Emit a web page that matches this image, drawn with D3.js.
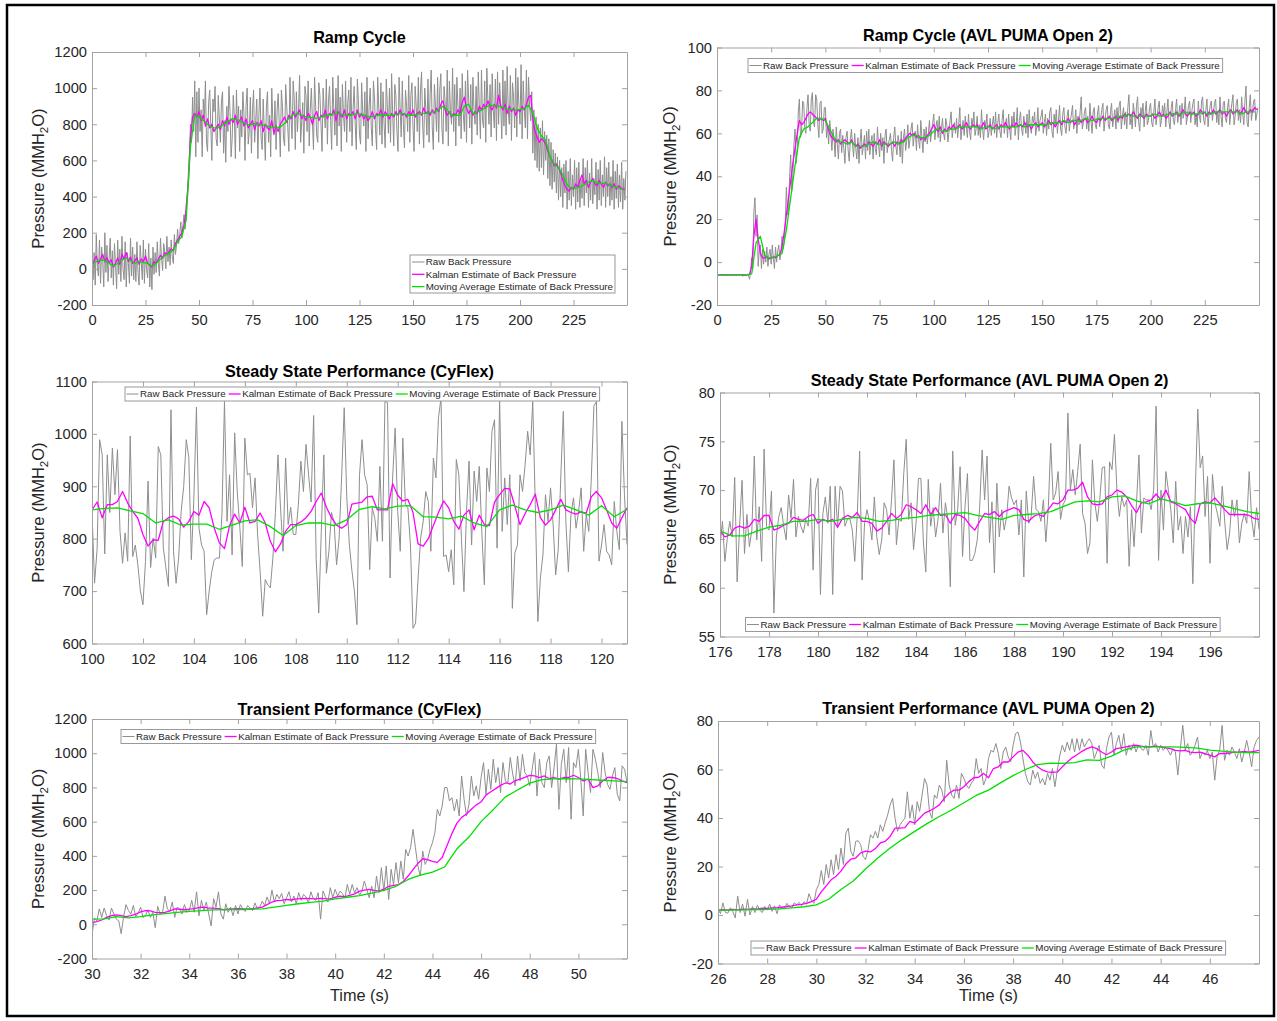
<!DOCTYPE html>
<html>
<head>
<meta charset="utf-8">
<script src="https://cdn.jsdelivr.net/npm/d3@7"></script>
<style>
  body { margin: 0; background: #fff; }
  svg { font-family: "Liberation Sans", Arial, Helvetica, sans-serif; }
  .axis path.domain, .axis line { stroke: #a3a3a3; }
  .axis text { font-size: 14.7px; fill: #262626; font-family: "Liberation Sans", Arial, sans-serif; }
</style>
</head>
<body>
<svg id="fig" width="1277" height="1021"></svg>
<script>
// ---- Ramp cycle (CyFlex): raw every 0.5 s, Kalman every 1 s, moving average every 2 s
const rampCyflexRaw = [
  150, -60, 90, -90, 190, 10, -40, 160, -80, 120, 40, -100, 200, -20, 130, -70, 60, 170, -50, 100,
  -90, 140, 20, -110, 160, -30, 110, -70, 180, 0, -60, 150, -100, 90, 30, -80, 170, -40, 120, -60,
  80, -70, 150, -20, -90, 130, 40, -60, 160, -80, 110, 0, -50, 140, -100, 60, -115, 120, -30, 90,
  -20, 150, 30, -40, 170, 60, -10, 140, 90, 0, 180, 40, 120, 20, 160, 70, 30, 190, 80, 130,
  220, 140, 190, 260, 170, 240, 300, 220, 350, 420, 520, 640, 800, 700, 950, 760, 1040, 620, 980, 700,
  1000, 760, 880, 620, 940, 830, 1040, 700, 650, 920, 990, 800, 600, 940, 870, 1010, 720, 680, 960, 830,
  700, 930, 980, 640, 820, 590, 900, 760, 1010, 870, 620, 720, 960, 850, 610, 990, 780, 900, 650, 880,
  730, 980, 860, 600, 900, 1000, 690, 760, 950, 640, 880, 990, 700, 820, 940, 610, 860, 1000, 730, 660,
  940, 760, 600, 900, 980, 700, 850, 620, 1000, 820, 740, 930, 660, 880, 970, 800, 620, 990, 900, 720,
  680, 1020, 900, 780, 650, 1060, 840, 720, 1040, 940, 660, 980, 760, 880, 1070, 700, 820, 920, 640, 1010,
  960, 760, 1040, 680, 880, 1000, 820, 660, 1060, 900, 740, 700, 1030, 960, 800, 650, 1000, 880, 780, 1050,
  690, 930, 1010, 820, 660, 1060, 880, 740, 1000, 680, 1070, 790, 950, 650, 1020, 860, 760, 1040, 700, 920,
  990, 760, 1060, 680, 880, 1010, 800, 660, 1050, 930, 740, 690, 1030, 870, 790, 980, 650, 1060, 720, 900,
  1000, 780, 680, 1040, 950, 770, 660, 1060, 890, 740, 1030, 690, 980, 800, 670, 1050, 900, 750, 1000, 700,
  1080, 860, 680, 1020, 960, 760, 650, 1060, 880, 730, 1040, 800, 670, 990, 900, 760, 1070, 700, 960, 1030,
  780, 650, 1010, 900, 760, 1060, 690, 990, 1090, 800, 670, 1000, 880, 740, 1050, 700, 970, 1100, 780, 660,
  1020, 900, 760, 1060, 700, 990, 1080, 780, 690, 1010, 930, 760, 1100, 680, 1040, 880, 800, 1110, 760, 1020,
  680, 1060, 900, 790, 1000, 720, 1080, 860, 760, 1040, 700, 1100, 940, 780, 1020, 690, 1060, 880, 800, 1010,
  740, 1090, 900, 720, 1100, 820, 780, 1040, 700, 1110, 930, 800, 1020, 730, 1080, 880, 780, 1050, 710, 1090,
  800, 1030, 900, 720, 1100, 790, 1040, 740, 1120, 880, 800, 1070, 710, 1030, 950, 780, 1110, 730, 1060, 900,
  800, 1130, 720, 1040, 880, 780, 1100, 720, 1060, 900, 820, 980, 640, 880, 600, 840, 560, 800, 540, 780,
  560, 820, 520, 760, 600, 740, 500, 720, 460, 700, 440, 660, 480, 640, 420, 620, 380, 600, 400, 560,
  340, 580, 420, 600, 330, 540, 380, 610, 350, 520, 400, 600, 330, 560, 370, 590, 340, 500, 390, 610,
  350, 560, 420, 600, 340, 530, 380, 610, 360, 500, 410, 590, 330, 550, 380, 600, 350, 520, 400, 620,
  340, 560, 400, 590, 350, 510, 380, 600, 330, 540, 390, 580, 340, 520, 370, 590, 330, 500, 380, 540
];
const rampCyflexKalman = [
  20, 45, 70, 30, 55, 80, 40, 60, 35, 50,
  10, 30, 60, 25, 80, 55, 90, 40, 65, 30,
  45, 60, 25, 55, 40, 70, 30, 20, 10, 40,
  30, 55, 75, 60, 90, 80, 95, 110, 100, 140,
  160, 180, 200, 240, 330, 470, 720, 840, 860, 840,
  870, 820, 850, 790, 830, 780, 800, 760, 780, 800,
  770, 820, 790, 840, 800, 830, 810, 850, 800, 820,
  840, 790, 830, 780, 800, 820, 770, 810, 790, 820,
  760, 800, 780, 770, 820, 750, 790, 760, 800, 820,
  840, 810, 850, 830, 870, 840, 860, 880, 830, 850,
  820, 860, 840, 800, 850, 870, 820, 850, 840, 880,
  830, 860, 850, 880, 820, 870, 850, 840, 880, 830,
  860, 850, 870, 830, 880, 840, 860, 830, 850, 820,
  840, 870, 830, 860, 850, 880, 840, 870, 850, 830,
  860, 840, 870, 850, 880, 850, 860, 840, 870, 850,
  880, 840, 860, 870, 850, 890, 860, 870, 850, 880,
  860, 890, 870, 910, 930, 880, 850, 870, 840, 860,
  850, 880, 860, 920, 950, 890, 860, 880, 850, 870,
  860, 900, 880, 910, 890, 930, 900, 880, 910, 890,
  960, 900, 880, 910, 860, 900, 870, 890, 850, 880,
  870, 900, 880, 910, 950, 960, 830, 760, 730, 700,
  720, 710, 690, 650, 620, 600, 570, 580, 560, 530,
  490, 460, 440, 430, 450, 440, 470, 450, 490, 520,
  470, 490, 450, 480, 500, 470, 460, 490, 470, 450,
  480, 460, 470, 450, 470, 440, 460, 450, 440, 440
];
const rampCyflexAvg = [
  30, 40, 50, 45, 30, 15, 30, 50, 60, 45,
  32, 40, 35, 30, 15, 30, 55, 72, 87, 105,
  150, 180, 270, 676, 850, 841, 822, 800, 784, 777,
  786, 805, 820, 832, 825, 814, 800, 797, 804, 800,
  795, 790, 786, 780, 785, 804, 835, 852, 860, 850,
  841, 838, 834, 835, 845, 850, 855, 860, 858, 852,
  850, 855, 860, 855, 846, 841, 846, 850, 850, 850,
  850, 855, 860, 856, 850, 850, 855, 860, 862, 866,
  869, 880, 900, 880, 850, 850, 850, 900, 910, 860,
  868, 878, 895, 906, 903, 900, 893, 887, 882, 878,
  882, 887, 905, 860, 780, 735, 712, 620, 580, 560,
  520, 465, 446, 446, 455, 464, 480, 488, 473, 473,
  473, 465, 455, 448, 440
];

// ---- Ramp cycle (AVL PUMA Open 2)
const rampAvlRaw = [
  -6.2, -5.8, -6.4, -5.7, -6.3, -5.9, -6.5, -5.8, -6.1, -6.4, -5.8, -6.2, -5.7, -6.3, -6.0, -5.9, -6.4, -5.8, -6.2, -6.0,
  -5.8, -6.2, -5.7, -6.3, -6.6, -5.9, -6.1, -6.4, -5.8, -6.2, -8.0, -4.0, 2.0, -3.0, 23.0, 30.0, 12.0, 22.0, -2.0, 6.0,
  8, -3, 6, -1, 5, 0, 7, -2, 4, 6, -1, 8, 2, -3, 7, 0, 5, 8, 1, 4,
  12, 6, 9, 18, 35, 22, 24, 40, 50, 33, 41, 55, 62, 46, 52, 70, 76, 58, 61, 75,
  74, 62, 60, 72, 78, 64, 61, 76, 79, 65, 63, 78, 76, 64, 58, 74, 75, 60, 62, 72,
  72, 58, 63, 55, 66, 60, 52, 62, 57, 49, 63, 55, 48, 60, 62, 51, 59, 53, 46, 58,
  61, 52, 47, 57, 62, 55, 49, 60, 53, 48, 58, 46, 56, 62, 50, 54, 59, 48, 61, 52,
  62, 50, 56, 59, 48, 60, 53, 50, 63, 55, 49, 60, 52, 58, 46, 59, 62, 51, 55, 57,
  60, 52, 47, 58, 63, 54, 50, 59, 56, 49, 61, 46, 58, 62, 52, 56, 64, 53, 57, 62,
  65, 54, 59, 61, 52, 64, 57, 53, 66, 58, 51, 62, 56, 63, 55, 60, 66, 56, 61, 65,
  69, 57, 63, 66, 58, 68, 56, 62, 67, 60, 57, 67, 64, 56, 61, 66, 70, 58, 63, 65,
  60, 67, 58, 64, 72, 57, 62, 66, 59, 68, 63, 58, 69, 61, 57, 67, 64, 70, 59, 62,
  68, 59, 64, 58, 71, 62, 57, 66, 63, 69, 58, 61, 67, 59, 64, 68, 60, 70, 58, 65,
  69, 61, 58, 66, 71, 60, 64, 67, 58, 69, 62, 57, 68, 63, 70, 59, 64, 72, 57, 66,
  70, 62, 59, 68, 64, 60, 69, 58, 71, 63, 60, 68, 65, 70, 59, 63, 72, 61, 66, 68,
  71, 60, 65, 69, 59, 67, 62, 70, 72, 61, 58, 69, 64, 71, 60, 66, 73, 62, 59, 69,
  72, 63, 60, 68, 71, 61, 66, 69, 73, 62, 65, 71, 60, 68, 64, 70, 77, 62, 65, 70,
  72, 62, 68, 61, 74, 66, 60, 70, 72, 64, 62, 69, 73, 63, 67, 71, 74, 61, 66, 71,
  73, 64, 62, 70, 74, 63, 67, 71, 62, 72, 65, 73, 75, 62, 68, 72, 64, 70, 62, 72,
  78, 64, 68, 62, 74, 70, 63, 73, 77, 65, 61, 72, 68, 74, 63, 70, 75, 64, 66, 72,
  74, 65, 63, 70, 76, 64, 68, 72, 75, 63, 66, 73, 69, 74, 63, 70, 76, 65, 62, 72,
  75, 66, 64, 71, 76, 65, 69, 73, 64, 74, 67, 70, 77, 64, 68, 73, 75, 65, 70, 74,
  76, 64, 69, 63, 75, 68, 65, 75, 77, 66, 64, 71, 76, 63, 69, 73, 75, 66, 70, 74,
  76, 65, 70, 64, 77, 68, 63, 74, 75, 67, 65, 72, 76, 64, 70, 74, 78, 64, 68, 74,
  76, 66, 71, 65, 77, 69, 64, 75, 82, 65, 63, 72, 78, 66, 70, 75, 76, 66, 69, 72
];
const rampAvlKalman = [
  -6.0, -6.1, -6.0, -5.9, -6.0, -6.1, -6.0, -6.0, -6.1, -6.0,
  -6.0, -5.9, -6.0, -6.1, -6.0, -5.6, -2.0, 12.0, 20.0, 11.0,
  4.0, 2.0, 2.0, 2.5, 1.5, 2.0, 2.5, 2.0, 3.0, 3.5,
  7, 14, 22, 30, 38, 46, 53, 60, 66, 64,
  65, 67, 69, 70, 69, 68, 67, 66, 67, 66,
  67, 63, 60, 58, 57, 56, 57, 55, 56, 57,
  56, 55, 57, 55, 54, 55, 53, 54, 55, 54,
  56, 55, 54, 56, 55, 57, 54, 56, 55, 54,
  55, 56, 54, 56, 55, 57, 56, 58, 59, 60,
  59, 60, 58, 59, 57, 58, 57, 59, 60, 62,
  64, 62, 61, 63, 60, 62, 61, 63, 62, 64,
  62, 63, 64, 62, 63, 65, 63, 62, 64, 63,
  64, 62, 63, 65, 62, 63, 64, 62, 63, 64,
  62, 64, 63, 65, 63, 62, 64, 63, 65, 63,
  64, 63, 65, 63, 64, 62, 64, 65, 63, 64,
  65, 63, 64, 66, 64, 65, 63, 65, 66, 64,
  66, 65, 67, 65, 66, 64, 66, 67, 65, 66,
  67, 65, 66, 68, 66, 65, 67, 66, 68, 66,
  67, 68, 66, 67, 68, 66, 68, 67, 69, 68,
  69, 68, 70, 68, 67, 69, 68, 67, 69, 68,
  68, 69, 67, 68, 70, 68, 69, 67, 68, 70,
  68, 69, 70, 68, 69, 71, 69, 68, 70, 69,
  70, 68, 69, 71, 69, 70, 68, 70, 69, 71,
  69, 70, 71, 69, 70, 68, 70, 71, 69, 70,
  71, 69, 70, 72, 70, 69, 71, 70, 72, 71
];
const rampAvlAvg = [
  -6, -6, -6, -6, -6, -6, -6, -6, -5.5, 9,
  12, 3, 2, 2, 3, 4, 15, 30, 45, 58,
  62, 63, 65, 67, 67, 66, 62, 58, 56, 56,
  55, 56, 54, 54, 54, 55, 56, 55, 55, 55,
  55, 56, 55, 56, 58, 59, 59, 58, 58, 59,
  61, 62, 61, 61, 62, 62, 63, 63, 63, 63,
  63, 62, 63, 63, 62, 63, 63, 63, 63, 63,
  64, 63, 64, 64, 64, 64, 64, 65, 65, 65,
  66, 65, 66, 66, 66, 67, 66, 66, 67, 67,
  67, 67, 67, 68, 68, 69, 68, 68, 68, 68,
  68, 69, 68, 68, 69, 69, 69, 69, 70, 69,
  69, 69, 70, 69, 69, 70, 70, 70, 70, 70,
  70, 69, 70, 70, 70
];

// ---- Steady state (CyFlex): raw every 0.1 s, Kalman 0.2 s, average 0.5 s from t = 100
const steadyCyflexRaw = [
  852, 715, 780, 989, 960, 771, 960, 850, 973, 884,
  970, 814, 753, 811, 757, 996, 766, 788, 750, 700,
  674, 757, 910, 745, 801, 763, 976, 960, 782, 745,
  709, 1046, 776, 715, 763, 852, 900, 989, 955, 760,
  880, 1051, 820, 788, 776, 655, 700, 737, 760, 763,
  763, 846, 1062, 833, 922, 769, 1002, 890, 824, 747,
  992, 922, 925, 859, 916, 808, 737, 652, 722, 712,
  706, 763, 850, 960, 859, 776, 954, 827, 860, 808,
  808, 865, 948, 890, 980, 922, 870, 1035, 760, 658,
  814, 960, 734, 776, 850, 833, 750, 801, 920, 1050,
  880, 790, 740, 700, 636, 922, 989, 922, 903, 741,
  859, 839, 795, 938, 795, 1062, 1060, 725, 916, 1011,
  852, 776, 992, 865, 859, 788, 629, 639, 725, 801,
  833, 890, 871, 776, 954, 916, 1031, 1069, 766, 769,
  737, 779, 712, 951, 922, 801, 699, 852, 948, 788,
  929, 871, 938, 814, 712, 935, 890, 1005, 1027, 782,
  1066, 814, 916, 827, 922, 667, 773, 788, 922, 890,
  941, 1005, 960, 1062, 865, 642, 725, 769, 884, 833,
  897, 827, 731, 779, 916, 1043, 833, 737, 846, 878,
  820, 852, 897, 776, 846, 814, 916, 1053, 1062, 757,
  788, 827, 776, 769, 750, 871, 814, 779, 1024, 884,
  789
];
const steadyCyflexKalman = [
  855, 870, 840, 865, 865,
  871, 890, 868, 852, 839,
  808, 786, 798, 797, 833,
  840, 843, 838, 822, 833,
  852, 845, 871, 859, 820,
  792, 781, 825, 847, 830,
  860, 830, 833, 849, 830,
  795, 775, 790, 814, 827,
  827, 832, 840, 852, 871,
  887, 860, 840, 826, 820,
  827, 866, 868, 870, 880,
  881, 855, 855, 855, 905,
  883, 872, 875, 850, 790,
  786, 800, 825, 850, 872,
  859, 833, 818, 845, 855,
  817, 845, 827, 825, 870,
  884, 896, 895, 862, 827,
  848, 865, 885, 840, 826,
  836, 855, 875, 855, 850,
  847, 851, 849, 880, 890,
  878, 855, 830, 820, 840,
  859
];
const steadyCyflexAvg = [
  855, 858, 859, 853, 848, 830, 836, 826, 828, 828,
  818, 826, 834, 836, 823, 806, 825, 830, 830, 825,
  836, 856, 861, 857, 862, 863, 842, 841, 838, 843,
  830, 823, 855, 864, 855, 850, 855, 864, 855, 845,
  863, 842, 856
];

// ---- Steady state (AVL PUMA Open 2) from t = 176
const steadyAvlRaw = [
  64.2, 66.8, 62.7, 65.1, 66.8, 65.2, 71.3, 60.6, 66.3, 71.0,
  63.5, 67.5, 64.2, 65.9, 73.5, 64.9, 68.3, 62.7, 74.2, 66.3,
  65.9, 69.9, 57.4, 65.2, 67.3, 68.2, 66.3, 64.9, 69.5, 67.1,
  71.1, 65.2, 67.3, 66.3, 65.6, 67.0, 66.3, 71.2, 61.8, 70.0,
  71.2, 59.3, 67.6, 69.3, 66.6, 70.4, 59.3, 70.4, 66.1, 70.4,
  69.9, 66.3, 67.0, 67.1, 65.9, 62.7, 67.3, 74.0, 60.8, 66.6,
  68.0, 66.8, 64.9, 69.3, 65.2, 63.4, 64.9, 68.7, 68.0, 65.4,
  69.0, 73.1, 64.4, 67.0, 66.8, 71.7, 75.2, 67.0, 68.7, 63.9,
  66.6, 71.2, 71.2, 64.7, 61.6, 71.1, 66.3, 68.2, 65.2, 67.0,
  70.7, 65.6, 68.7, 67.1, 60.1, 74.0, 66.4, 68.0, 72.4, 63.2,
  68.3, 71.7, 62.8, 62.8, 63.5, 64.9, 68.3, 74.1, 69.0, 73.5,
  64.6, 68.8, 61.5, 70.7, 65.2, 68.0, 65.9, 67.3, 70.4, 69.2,
  68.5, 69.0, 65.4, 69.0, 61.1, 69.9, 66.6, 67.3, 71.4, 68.0,
  67.8, 66.8, 69.0, 64.7, 68.2, 74.8, 69.0, 69.7, 71.9, 67.0,
  68.5, 69.0, 77.9, 70.0, 72.1, 69.5, 71.9, 74.7, 67.6, 66.6,
  63.5, 64.6, 73.1, 68.7, 66.8, 69.0, 72.3, 72.4, 62.5, 72.9,
  72.1, 75.7, 70.0, 67.3, 69.3, 68.3, 69.0, 62.2, 68.0, 64.2,
  68.7, 73.6, 65.6, 69.2, 69.0, 69.0, 68.0, 70.0, 78.6, 62.8,
  70.0, 65.9, 71.9, 70.0, 68.0, 64.6, 70.9, 65.9, 67.3, 63.5,
  67.3, 65.2, 68.3, 60.4, 70.0, 78.3, 72.3, 73.5, 67.3, 71.4,
  62.5, 71.6, 68.7, 67.6, 66.3, 70.4, 66.8, 63.9, 65.6, 69.0,
  67.3, 69.0, 64.6, 66.6, 67.6, 66.6, 71.9, 67.0, 65.2, 68.2,
  66.0
];
const steadyAvlKalman = [
  65.8, 65.2, 65.4, 66.1, 66.3,
  66.1, 66.3, 67.0, 66.8, 67.4,
  67.4, 65.9, 66.1, 66.4, 66.6,
  67.2, 67.0, 66.9, 67.3, 67.5,
  66.6, 67.0, 66.8, 67.0, 66.2,
  67.1, 67.4, 67.2, 67.7, 66.8,
  66.8, 66.6, 65.8, 66.1, 66.8,
  67.6, 67.1, 67.5, 68.5, 68.3,
  68.0, 67.6, 68.5, 67.5, 68.2,
  67.4, 67.5, 66.6, 67.5, 67.4,
  67.1, 66.4, 65.9, 66.8, 67.6,
  67.5, 67.8, 67.3, 67.8, 68.0,
  68.2, 68.0, 67.0, 66.8, 67.3,
  67.5, 67.3, 68.0, 68.7, 68.6,
  69.0, 70.0, 70.0, 70.2, 70.8,
  69.3, 68.6, 68.5, 68.6, 69.3,
  69.5, 70.0, 69.8, 69.3, 68.4,
  67.7, 68.7, 68.8, 69.0, 69.6,
  69.0, 70.0, 68.8, 68.6, 68.3,
  68.0, 67.1, 66.6, 68.6, 68.8,
  68.7, 69.2, 68.6, 68.0, 67.5,
  67.5, 67.5, 67.5, 67.4, 67.1,
  67.0
];
const steadyAvlAvg = [
  65.8, 65.3, 65.3, 65.8, 66.2, 66.4, 66.8, 66.8, 67.0, 66.8,
  67.0, 67.2, 67.1, 66.8, 66.9, 67.1, 67.2, 67.4, 67.5, 67.6,
  67.7, 67.4, 67.2, 67.0, 67.4, 67.5, 67.6, 67.8, 68.3, 68.8,
  68.9, 68.8, 69.3, 69.4, 68.9, 68.6, 69.1, 68.8, 68.4, 68.6,
  68.7, 68.4, 68.1, 67.8, 67.6
];

// ---- Transient (CyFlex) from t = 30
const transCyflexRaw = [
  -60, 35, 20, 90, 40, 95, 50, 25, 95, 60,
  30, 20, -55, 45, 115, 80, 60, 110, 45, 65,
  100, 40, 50, 85, 40, 70, -20, 105, 60, 65,
  165, 90, 75, 130, 40, 100, 90, 60, 115, 70,
  80, 140, 70, 190, 50, 140, 80, 130, 60, -10,
  150, 100, 190, 60, 30, 120, 70, 100, 50, 110,
  60, 115, 90, 75, 110, 95, 80, 125, 90, 100,
  135, 110, 160, 120, 200, 130, 175, 150, 180, 120,
  155, 190, 130, 165, 120, 185, 140, 175, 160, 125,
  190, 150, 140, 185, 30, 195, 160, 130, 214, 155,
  204, 165, 194, 180, 155, 233, 175, 233, 184, 214,
  170, 194, 253, 204, 155, 223, 155, 282, 184, 331,
  194, 341, 145, 321, 233, 360, 243, 370, 263, 438,
  399, 448, 555, 448, 341, 282, 428, 350, 380, 438,
  477, 536, 672, 633, 692, 799, 799, 721, 740, 662,
  731, 633, 867, 731, 633, 701, 867, 750, 809, 731,
  858, 945, 760, 906, 789, 965, 828, 916, 770, 945,
  838, 828, 975, 877, 809, 984, 838, 994, 887, 867,
  809, 906, 1004, 750, 965, 828, 799, 945, 984, 799,
  916, 1053, 672, 936, 1023, 828, 1033, 614, 945, 916,
  1023, 848, 633, 1023, 887, 770, 1023, 965, 887, 799,
  1004, 887, 818, 789, 867, 916, 760, 721, 926, 906,
  830
];
const transCyflexKalman = [
  10, 15, 25, 40, 50,
  55, 50, 45, 50, 60,
  72, 80, 78, 70, 68,
  70, 78, 90, 88, 85,
  88, 92, 98, 100, 95,
  95, 92, 85, 88, 90,
  92, 90, 88, 92, 96,
  100, 115, 130, 138, 140,
  145, 142, 148, 150, 152,
  150, 148, 152, 150, 149,
  158, 165, 162, 169, 178,
  194, 200, 204, 198, 194,
  205, 222, 228, 232, 250,
  282, 320, 355, 383, 378,
  368, 362, 390, 460, 530,
  590, 625, 645, 672, 698,
  715, 755, 775, 793, 812,
  826, 820, 840, 849, 859,
  871, 867, 858, 867, 852,
  858, 848, 858, 858, 871,
  858, 838, 848, 799, 809,
  838, 858, 858, 852, 838,
  828
];
const transCyflexAvg = [
  30, 32, 45, 38, 45, 55, 62, 70, 76, 80,
  84, 86, 86, 88, 90, 100, 110, 120, 128, 135,
  148, 158, 168, 182, 198, 222, 262, 288, 305, 335,
  440, 510, 600, 670, 745, 785, 825, 846, 850, 852,
  850, 846, 842, 838, 834
];

// ---- Transient (AVL PUMA Open 2) from t = 26
const transAvlRaw = [
  2.5, 0.5, 5.0, 1.0, 0.8, 3.0, 1.5, -1.2, 7.8, 1.0,
  4.5, -0.5, 6.5, 0.0, 3.5, 1.0, 4.0, 2.0, 1.0, 3.5,
  2.0, 4.5, 1.5, 3.8, 0.5, 4.2, 3.0, 2.5, 4.8, 3.5,
  3.0, 5.0, 4.2, 5.2, 3.8, 5.5, 4.5, 8.8, 6.0, 4.8,
  10.5, 12.6, 18.3, 12.6, 20.8, 15.3, 22.8, 16.7, 24.9, 18.7,
  27.6, 20.8, 33.8, 35.8, 26.3, 24.2, 30.4, 30.6, 29.0, 24.2,
  22.8, 26.9, 33.1, 31.7, 34.5, 31.7, 37.2, 34.5, 38.0, 41.3,
  45.4, 48.1, 39.9, 34.5, 37.2, 38.6, 39.9, 50.8, 39.9, 45.4,
  37.2, 46.7, 42.7, 49.5, 56.3, 53.6, 42.7, 39.9, 49.5, 48.1,
  53.6, 51.5, 46.7, 63.8, 53.6, 49.5, 48.1, 53.6, 48.1, 58.4,
  56.3, 53.6, 52.2, 54.3, 55.6, 64.5, 58.4, 60.4, 53.6, 56.3,
  64.5, 67.9, 67.2, 70.7, 66.6, 60.4, 67.2, 69.3, 65.2, 63.1,
  70.0, 74.8, 75.4, 71.3, 64.5, 58.4, 55.0, 53.6, 59.7, 56.3,
  59.0, 54.3, 56.3, 53.6, 58.4, 55.6, 60.4, 52.9, 59.7, 65.9,
  70.0, 67.2, 71.3, 67.9, 72.7, 67.2, 72.7, 67.9, 72.7, 69.3,
  71.3, 72.7, 70.7, 64.5, 67.2, 70.0, 61.8, 60.4, 68.6, 73.4,
  75.4, 65.9, 70.7, 74.1, 67.9, 74.8, 65.9, 70.0, 67.9, 70.7,
  67.2, 70.0, 68.6, 67.9, 70.0, 65.9, 76.1, 69.3, 70.7, 67.2,
  70.0, 67.9, 69.3, 67.9, 65.9, 68.6, 67.2, 57.7, 68.6, 78.2,
  67.9, 70.7, 65.9, 67.2, 70.0, 73.4, 64.5, 67.2, 65.9, 67.9,
  64.5, 67.2, 55.6, 65.9, 67.9, 78.2, 63.8, 67.9, 65.9, 69.3,
  67.2, 64.5, 68.6, 63.1, 67.2, 72.0, 67.2, 61.1, 69.3, 72.0,
  73.4
];
const transAvlKalman = [
  2.0, 2.2, 2.0, 2.3, 2.1,
  2.4, 2.3, 2.5, 2.4, 2.8,
  2.7, 2.9, 3.0, 3.2, 3.5,
  3.8, 4.2, 4.4, 4.8, 5.5,
  6.5, 9.5, 12.0, 14.5, 16.0,
  18.1, 21.0, 23.0, 23.5, 25.6,
  26.3, 26.0, 27.4, 29.7, 30.4,
  32.4, 35.8, 35.8, 36.0, 38.6,
  37.9, 39.9, 42.0, 42.9, 44.0,
  45.4, 48.1, 50.2, 51.5, 51.5,
  52.9, 55.0, 56.6, 56.8, 58.4,
  56.6, 60.4, 61.1, 63.1, 63.1,
  65.2, 67.2, 67.9, 65.9, 63.1,
  61.1, 59.7, 59.0, 58.8, 59.0,
  61.1, 63.1, 64.8, 66.1, 67.5,
  68.6, 69.3, 68.6, 67.2, 66.1,
  67.2, 68.6, 68.9, 69.3, 69.7,
  70.0, 69.6, 69.3, 69.3, 69.6,
  69.3, 68.9, 68.6, 67.9, 67.7,
  67.9, 67.2, 67.0, 67.2, 66.5,
  65.9, 65.2, 66.6, 66.6, 66.8,
  67.2, 67.2, 67.5, 67.2, 67.5,
  67.9
];
const transAvlAvg = [
  2.0, 2.0, 2.1, 2.2, 2.3, 2.5, 2.9, 3.4, 4.2, 6.5,
  10.5, 14.0, 19.0, 23.5, 27.6, 31.2, 34.5, 37.7, 40.6, 43.3,
  46.3, 49.3, 51.5, 54.6, 57.5, 60.0, 62.0, 62.6, 62.5, 62.8,
  64.0, 63.8, 65.5, 68.0, 69.3, 69.3, 69.3, 69.3, 69.1, 68.8,
  68.0, 67.6, 67.2, 67.0, 67.0
];

// ---- tick values
const rampXTicks = [0, 25, 50, 75, 100, 125, 150, 175, 200, 225];
const cyflexYTicks = [-200, 0, 200, 400, 600, 800, 1000, 1200];
const rampAvlYTicks = [-20, 0, 20, 40, 60, 80, 100];
const steadyCyflexXTicks = [100, 102, 104, 106, 108, 110, 112, 114, 116, 118, 120];
const steadyCyflexYTicks = [600, 700, 800, 900, 1000, 1100];
const steadyAvlXTicks = [176, 178, 180, 182, 184, 186, 188, 190, 192, 194, 196];
const steadyAvlYTicks = [55, 60, 65, 70, 75, 80];
const transCyflexXTicks = [30, 32, 34, 36, 38, 40, 42, 44, 46, 48, 50];
const transAvlXTicks = [26, 28, 30, 32, 34, 36, 38, 40, 42, 44, 46];
const transAvlYTicks = [-20, 0, 20, 40, 60, 80];

const legendNames = ["Raw Back Pressure", "Kalman Estimate of Back Pressure", "Moving Average Estimate of Back Pressure"];
const seriesColors = ["#8e8e8e", "#ff00ff", "#00e000"];
const seriesWidths = [1, 1.3, 1.3];

const svg = d3.select("#fig");

// outer frame
svg.append("rect")
  .attr("x", 7).attr("y", 5).attr("width", 1267).attr("height", 1011)
  .attr("fill", "none").attr("stroke", "#000").attr("stroke-width", 2.5);

const panels = [
  { id: 1, title: "Ramp Cycle", box: [92, 52, 627, 305], titleY: 43, ylabelX: 44,
    xDomain: [0, 250], xTicks: rampXTicks, yDomain: [-200, 1200], yTicks: cyflexYTicks, t0: 0,
    series: [[rampCyflexRaw, 0.5], [rampCyflexKalman, 1], [rampCyflexAvg, 2]],
    legend: { vertical: true, x: 410, y: 255, w: 205 } },
  { id: 2, title: "Ramp Cycle (AVL PUMA Open 2)", box: [717, 47.5, 1259, 305], titleY: 40.5, ylabelX: 675.5,
    xDomain: [0, 250], xTicks: rampXTicks, yDomain: [-20, 100], yTicks: rampAvlYTicks, t0: 0,
    series: [[rampAvlRaw, 0.5], [rampAvlKalman, 1], [rampAvlAvg, 2]],
    legend: { x: 748, cy: 65.5 } },
  { id: 3, title: "Steady State Performance (CyFlex)", box: [92, 381.5, 627, 643.5], titleY: 377, ylabelX: 44,
    xDomain: [100, 121], xTicks: steadyCyflexXTicks, yDomain: [600, 1100], yTicks: steadyCyflexYTicks, t0: 100,
    series: [[steadyCyflexRaw, 0.1], [steadyCyflexKalman, 0.2], [steadyCyflexAvg, 0.5]],
    legend: { x: 125, cy: 394 } },
  { id: 4, title: "Steady State Performance (AVL PUMA Open 2)", box: [720, 392.5, 1259, 636.5], titleY: 385.5, ylabelX: 676,
    xDomain: [176, 198], xTicks: steadyAvlXTicks, yDomain: [55, 80], yTicks: steadyAvlYTicks, t0: 176,
    series: [[steadyAvlRaw, 0.1], [steadyAvlKalman, 0.2], [steadyAvlAvg, 0.5]],
    legend: { x: 745.5, cy: 624.5 } },
  { id: 5, title: "Transient Performance (CyFlex)", box: [92, 719, 627, 958.5], titleY: 714.5, ylabelX: 44,
    xDomain: [30, 52], xTicks: transCyflexXTicks, yDomain: [-200, 1200], yTicks: cyflexYTicks, t0: 30,
    series: [[transCyflexRaw, 0.1], [transCyflexKalman, 0.2], [transCyflexAvg, 0.5]],
    legend: { x: 121, cy: 736.5 }, xlabel: "Time (s)" },
  { id: 6, title: "Transient Performance (AVL PUMA Open 2)", box: [718, 721, 1259, 963.5], titleY: 713.5, ylabelX: 675.5,
    xDomain: [26, 48], xTicks: transAvlXTicks, yDomain: [-20, 80], yTicks: transAvlYTicks, t0: 26,
    series: [[transAvlRaw, 0.1], [transAvlKalman, 0.2], [transAvlAvg, 0.5]],
    legend: { x: 751, cy: 948 }, xlabel: "Time (s)" }
];

function drawLegend(g, L) {
  const lg = g.append("g");
  const frame = lg.append("rect").attr("fill", "#fff").attr("stroke", "#999").attr("stroke-width", 1);
  if (L.vertical) {
    legendNames.forEach((name, k) => {
      const cy = L.y + 7 + k * 12.3;
      lg.append("line").attr("x1", L.x + 2).attr("x2", L.x + 14.5).attr("y1", cy).attr("y2", cy)
        .attr("stroke", seriesColors[k]).attr("stroke-width", seriesWidths[k]);
      lg.append("text").attr("x", L.x + 15.7).attr("y", cy).attr("dy", "0.35em")
        .attr("font-size", 9.75).attr("fill", "#262626").text(name);
    });
    frame.attr("x", L.x).attr("y", L.y).attr("width", L.w).attr("height", 38);
  } else {
    let cx = L.x + 1.5;
    legendNames.forEach((name, k) => {
      lg.append("line").attr("x1", cx).attr("x2", cx + 12).attr("y1", L.cy).attr("y2", L.cy)
        .attr("stroke", seriesColors[k]).attr("stroke-width", seriesWidths[k]);
      const t = lg.append("text").attr("x", cx + 13.5).attr("y", L.cy).attr("dy", "0.35em")
        .attr("font-size", 9.75).attr("fill", "#262626").text(name);
      cx += 13.5 + t.node().getComputedTextLength() + 3;
    });
    frame.attr("x", L.x).attr("y", L.cy - 7).attr("width", cx - L.x).attr("height", 14);
  }
}

function drawPanel(p) {
  const [left, top, right, bottom] = p.box;
  const x = d3.scaleLinear().domain(p.xDomain).range([left, right]);
  const y = d3.scaleLinear().domain(p.yDomain).range([bottom, top]);
  const g = svg.append("g");

  g.append("clipPath").attr("id", "clip" + p.id).append("rect")
    .attr("x", left).attr("y", top).attr("width", right - left).attr("height", bottom - top);

  const plot = g.append("g").attr("clip-path", `url(#clip${p.id})`);
  p.series.forEach(([values, dt], k) => {
    const line = d3.line().x((d, i) => x(p.t0 + i * dt)).y(d => y(d));
    plot.append("path").datum(values).attr("d", line)
      .attr("fill", "none").attr("stroke", seriesColors[k])
      .attr("stroke-width", seriesWidths[k]).attr("stroke-linejoin", "round");
  });

  const fmt = d => String(d);
  g.append("g").attr("class", "axis").attr("transform", `translate(0,${bottom})`)
    .call(d3.axisBottom(x).tickValues(p.xTicks).tickFormat(fmt).tickSizeInner(-5).tickSizeOuter(0).tickPadding(10));
  g.append("g").attr("class", "axis").attr("transform", `translate(0,${top})`)
    .call(d3.axisTop(x).tickValues(p.xTicks).tickFormat("").tickSizeInner(-5).tickSizeOuter(0));
  g.append("g").attr("class", "axis").attr("transform", `translate(${left},0)`)
    .call(d3.axisLeft(y).tickValues(p.yTicks).tickFormat(fmt).tickSizeInner(-5).tickSizeOuter(0).tickPadding(5));
  g.append("g").attr("class", "axis").attr("transform", `translate(${right},0)`)
    .call(d3.axisRight(y).tickValues(p.yTicks).tickFormat("").tickSizeInner(-5).tickSizeOuter(0));

  // title
  g.append("text").attr("x", (left + right) / 2).attr("y", p.titleY)
    .attr("text-anchor", "middle").attr("font-size", 16.2).attr("font-weight", "bold")
    .attr("fill", "#000").text(p.title);

  // y label with subscript
  const yl = g.append("text")
    .attr("transform", `translate(${p.ylabelX},${(top + bottom) / 2}) rotate(-90)`)
    .attr("text-anchor", "middle").attr("font-size", 16.5).attr("fill", "#262626");
  yl.append("tspan").text("Pressure (MMH");
  yl.append("tspan").attr("font-size", 11.5).attr("dy", "0.35em").text("2");
  yl.append("tspan").attr("dy", "-0.25em").text("O)");

  if (p.xlabel) {
    g.append("text").attr("x", (left + right) / 2).attr("y", 1001)
      .attr("text-anchor", "middle").attr("font-size", 16.3).attr("fill", "#262626").text(p.xlabel);
  }

  drawLegend(g, p.legend);
}

panels.forEach(drawPanel);
</script>
</body>
</html>
